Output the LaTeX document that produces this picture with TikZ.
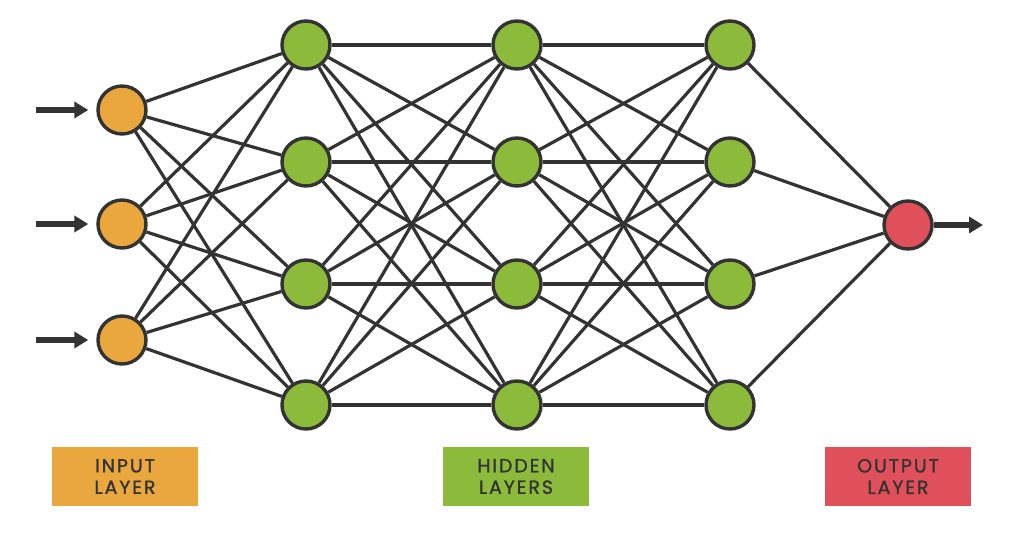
\documentclass[tikz,border=0pt]{standalone}
\usepackage{fontspec}
\setmainfont[LetterSpace=10,FakeBold=1.2]{Poppins}
\usetikzlibrary{arrows.meta}
\definecolor{inC}{HTML}{E9A73D}
\definecolor{hidC}{HTML}{8CBB3C}
\definecolor{outC}{HTML}{E0505A}
\definecolor{ink}{HTML}{333333}
\tikzset{
  neuron/.style={circle, draw=ink, line width=3.4pt, minimum size=48pt, inner sep=0pt},
  conn/.style={draw=ink, line width=3.2pt},
  io/.style={draw=ink, line width=5.5pt, -{Triangle[length=14pt,width=16pt]}},
  lbl/.style={minimum width=146pt, minimum height=59pt, inner sep=0pt, text=ink, align=center, font=\fontsize{19}{21.5}\selectfont}
}
\begin{document}
\begin{tikzpicture}[x=1pt,y=-1pt]
\useasboundingbox (0,0) rectangle (1024,534);
% input layer
\foreach \i/\y in {1/110,2/224,3/340} {
  \node[neuron, fill=inC] (i\i) at (122,\y) {};
}
% hidden layers
\foreach \l/\x in {1/306,2/517,3/730} {
  \foreach \j/\y in {1/45,2/162,3/284,4/405} {
    \node[neuron, fill=hidC] (h\l\j) at (\x,\y) {};
  }
}
% output
\node[neuron, fill=outC] (o) at (908,225) {};
% connections
\foreach \i in {1,2,3} \foreach \j in {1,2,3,4} \draw[conn] (i\i) -- (h1\j);
\foreach \j in {1,2,3,4} \foreach \k in {1,2,3,4} {
  \draw[conn] (h1\j) -- (h2\k);
  \draw[conn] (h2\j) -- (h3\k);
}
\foreach \j in {1,2,3,4} \draw[conn] (h3\j) -- (o);
% arrows
\foreach \i/\y in {1/110,2/224,3/340} {
  \coordinate (a\i) at (36,\y);
  \draw[io, shorten >=8pt] (a\i) -- (i\i);
}
\coordinate (oe) at (983,225);
\draw[io] (o) -- (oe);
% labels
\node[lbl, fill=inC] (L1) at (125,476.5) {INPUT\\LAYER};
\node[lbl, fill=hidC] (L2) at (516,476.5) {HIDDEN\\LAYERS};
\node[lbl, fill=outC] (L3) at (898,476.5) {OUTPUT\\LAYER};
\end{tikzpicture}
\end{document}
